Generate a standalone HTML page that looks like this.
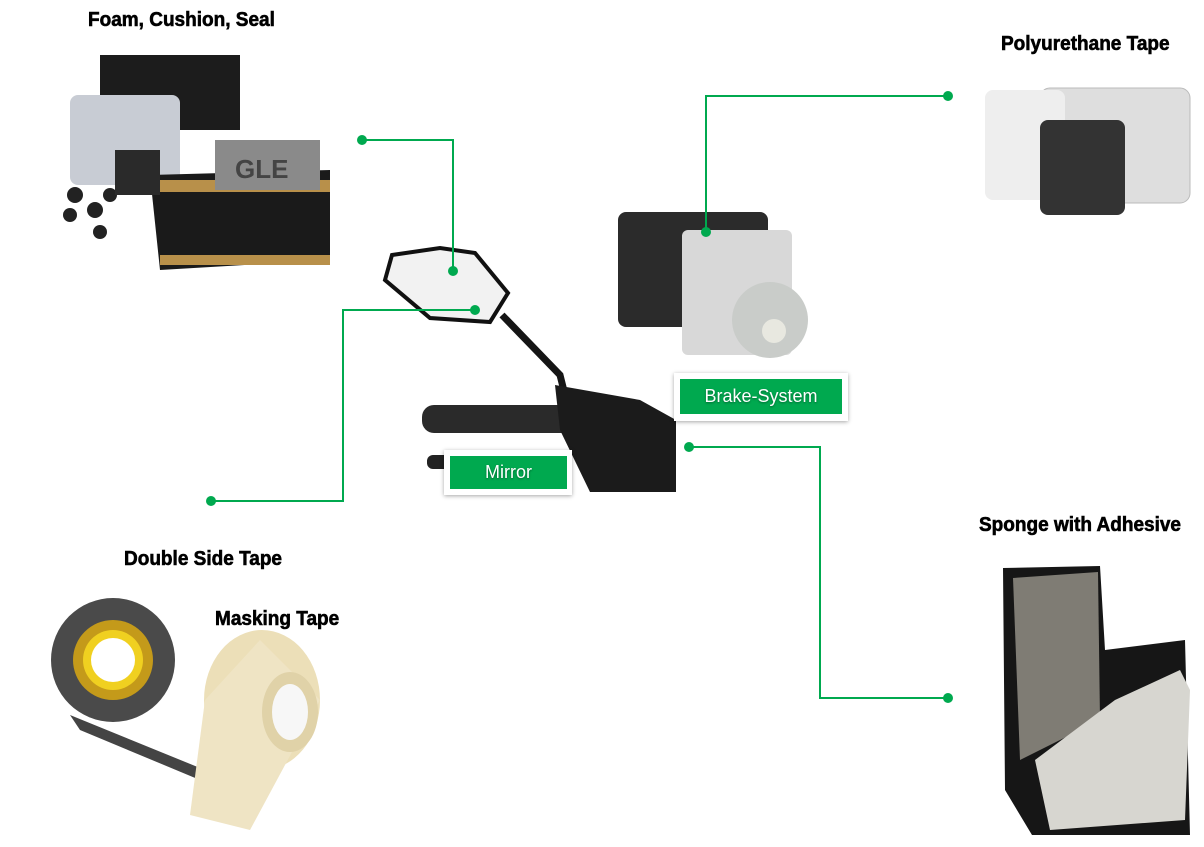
<!DOCTYPE html>
<html><head><style>
body{margin:0;width:1204px;height:847px;background:#fff;position:relative;overflow:hidden;font-family:"Liberation Sans",sans-serif}
.t{position:absolute;font-weight:bold;font-size:20px;transform:scaleX(0.95);transform-origin:left top;color:#000;white-space:nowrap;-webkit-text-stroke:0.6px #000}
.box{position:absolute;background:#fff;box-shadow:0 1px 4px rgba(0,0,0,.35)}
.g{position:absolute;background:#00a94f;color:#fff;font-size:18px;text-align:center;text-shadow:0 1px 2px rgba(0,0,0,.4)}
</style></head><body>
<svg width="1204" height="847" style="position:absolute;left:0;top:0">
<g>
<rect x="100" y="55" width="140" height="75" fill="#1c1c1c"/>
<rect x="70" y="95" width="110" height="90" fill="#c8ccd4" rx="8"/>
<polygon points="150,175 330,170 330,260 160,270" fill="#1a1a1a"/>
<rect x="150" y="180" width="180" height="12" fill="#b8904a"/>
<rect x="160" y="255" width="170" height="10" fill="#b8904a"/>
<rect x="215" y="140" width="105" height="50" fill="#8a8a8a"/>
<text x="235" y="178" font-size="26" font-weight="bold" fill="#444" font-family="Liberation Sans">GLE</text>
<circle cx="75" cy="195" r="8" fill="#222"/><circle cx="95" cy="210" r="8" fill="#222"/><circle cx="70" cy="215" r="7" fill="#222"/><circle cx="110" cy="195" r="7" fill="#222"/><circle cx="100" cy="232" r="7" fill="#222"/>
<rect x="115" y="150" width="45" height="45" fill="#2a2a2a"/>
</g>
<polygon points="392,255 440,248 475,253 508,293 490,322 430,318 385,280" fill="#f2f2f2" stroke="#111" stroke-width="4"/>
<path d="M502,315 L560,375 L565,395" stroke="#151515" stroke-width="7" fill="none"/>
<rect x="422" y="405" width="160" height="28" rx="12" fill="#2a2a2a"/>
<polygon points="555,385 640,400 676,420 676,492 590,492 560,430" fill="#1b1b1b"/>
<rect x="427" y="455" width="30" height="14" rx="6" fill="#222"/>
<rect x="618" y="212" width="150" height="115" rx="8" fill="#2b2b2b"/>
<rect x="682" y="230" width="110" height="125" rx="6" fill="#d8d8d8"/>
<circle cx="770" cy="320" r="38" fill="#c9ccc9"/><circle cx="774" cy="331" r="12" fill="#e8e8e0"/>
<rect x="1040" y="88" width="150" height="115" rx="10" fill="#dedede" stroke="#bbb"/>
<rect x="985" y="90" width="80" height="110" rx="8" fill="#eeeeee"/>
<rect x="1040" y="120" width="85" height="95" rx="8" fill="#333"/>
<polygon points="1003,568 1100,566 1105,650 1185,640 1190,835 1032,835 1005,790" fill="#161616"/>
<polygon points="1013,578 1098,572 1100,720 1040,750 1020,760" fill="#7f7c74"/>
<polygon points="1035,760 1115,700 1180,670 1190,690 1185,820 1050,830" fill="#d7d6d0"/>
<circle cx="113" cy="660" r="62" fill="#4a4a4a"/>
<circle cx="113" cy="660" r="40" fill="#c49a1a"/>
<circle cx="113" cy="660" r="30" fill="#f0d020"/>
<circle cx="113" cy="660" r="22" fill="#fff"/>
<polygon points="70,715 205,770 200,780 80,730" fill="#444"/>
<ellipse cx="262" cy="700" rx="58" ry="70" fill="#ecdfb8"/>
<polygon points="205,700 260,640 320,700 250,830 190,815" fill="#efe4c4"/>
<ellipse cx="290" cy="712" rx="28" ry="40" fill="#e0d2a8"/>
<ellipse cx="290" cy="712" rx="18" ry="28" fill="#f7f7f7"/>
<g stroke="#00a94f" stroke-width="2" fill="none">
<polyline points="362,140 453,140 453,271"/>
<polyline points="475,310 343,310 343,501 211,501"/>
<polyline points="706,232 706,96 948,96"/>
<polyline points="689,447 820,447 820,698 948,698"/>
</g>
<g fill="#00a94f">
<circle cx="362" cy="140" r="5"/><circle cx="453" cy="271" r="5"/>
<circle cx="475" cy="310" r="5"/><circle cx="211" cy="501" r="5"/>
<circle cx="706" cy="232" r="5"/><circle cx="948" cy="96" r="5"/>
<circle cx="689" cy="447" r="5"/><circle cx="948" cy="698" r="5"/>
</g>
</svg>
<div class="t" style="left:88px;top:9px">Foam, Cushion, Seal</div>
<div class="t" style="left:1001px;top:33px">Polyurethane Tape</div>
<div class="t" style="left:979px;top:514px">Sponge with Adhesive</div>
<div class="t" style="left:124px;top:548px">Double Side Tape</div>
<div class="t" style="left:215px;top:608px">Masking Tape</div>
<div class="box" style="left:444px;top:450px;width:128px;height:45px"></div>
<div class="g" style="left:450px;top:456px;width:117px;height:33px;line-height:33px">Mirror</div>
<div class="box" style="left:674px;top:373px;width:174px;height:48px"></div>
<div class="g" style="left:680px;top:379px;width:162px;height:35px;line-height:35px">Brake-System</div>
</body></html>
